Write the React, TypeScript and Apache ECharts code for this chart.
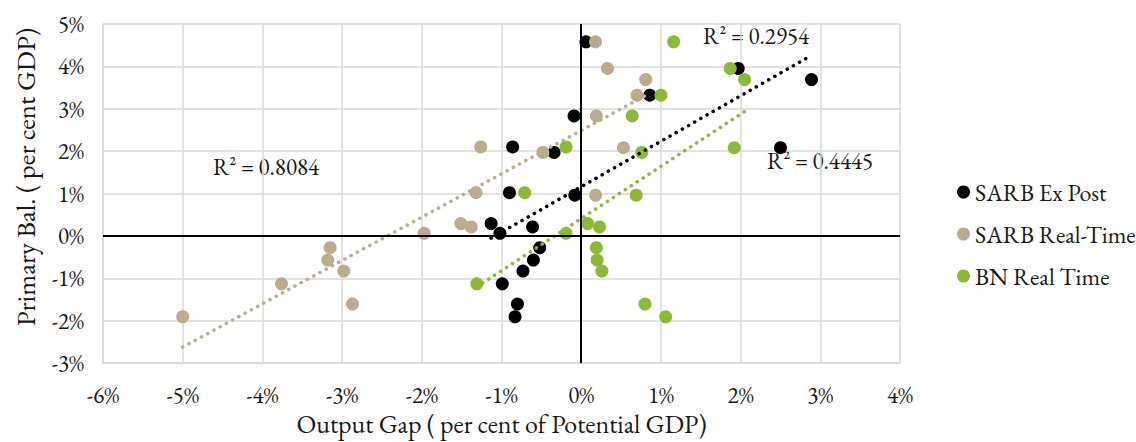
import React, { useEffect, useRef } from "react";
import * as echarts from "echarts";

// Primary balance (% of GDP) – shared y values for each observation
const primaryBalance = [4.58, 3.95, 3.69, 3.32, 2.83, 2.10, 2.08, 1.97, 1.02, 0.96, 0.29, 0.21, 0.06, -0.28, -0.57, -0.83, -1.13, -1.61, -1.91];
// Output gap estimates (% of potential GDP)
const sarbExPost = [0.06, 1.97, 2.89, 0.86, -0.09, -0.86, 2.50, -0.34, -0.90, -0.08, -1.13, -0.61, -1.02, -0.52, -0.60, -0.73, -0.99, -0.80, -0.83];
const sarbRealTime = [0.18, 0.33, 0.81, 0.70, 0.19, -1.26, 0.53, -0.48, -1.32, 0.18, -1.51, -1.38, -1.97, -3.15, -3.18, -2.98, -3.76, -2.87, -5.00];
const bnRealTime = [1.16, 1.87, 2.05, 1.00, 0.64, -0.19, 1.92, 0.76, -0.71, 0.69, 0.08, 0.23, -0.19, 0.19, 0.20, 0.26, -1.31, 0.80, 1.06];

const seriesNames = ["SARB Ex Post", "SARB Real-Time", "BN Real Time"];
const seriesColors = ["#000000", "#BCAC8C", "#8BBA34"];
const r2Labels = ["R² = 0.2954", "R² = 0.8084", "R² = 0.4445"];
const xTitle = "Output Gap ( per cent of Potential GDP)";
const yTitle = "Primary Bal. ( per cent GDP)";

const xTicksMin = -6, xTicksMax = 4, yTicksMin = -3, yTicksMax = 5;

const FONT = "'EB Garamond', Garamond, 'Liberation Serif', 'Times New Roman', serif";
const TEXT = "#1a1a1a";

function trend(xs: number[], ys: number[]) {
  const n = xs.length;
  const mx = xs.reduce((a, b) => a + b, 0) / n;
  const my = ys.reduce((a, b) => a + b, 0) / n;
  let sxy = 0, sxx = 0;
  for (let i = 0; i < n; i++) {
    sxy += (xs[i] - mx) * (ys[i] - my);
    sxx += (xs[i] - mx) ** 2;
  }
  const b = sxy / sxx;
  const a = my - b * mx;
  const x0 = Math.min(...xs), x1 = Math.max(...xs);
  return [[x0, a + b * x0], [x1, a + b * x1]];
}

export default function App() {
  const ref = useRef<HTMLDivElement>(null);
  useEffect(() => {
    if (!ref.current) return;
    const chart = echarts.init(ref.current, null, { renderer: "svg" });
    const xsets = [sarbExPost, sarbRealTime, bnRealTime];
    const scatter = xsets.map((xs, i) => ({
      name: seriesNames[i],
      type: "scatter",
      symbol: "circle",
      symbolSize: 13,
      itemStyle: { color: seriesColors[i], opacity: 1 },
      data: xs.map((x, j) => [x, primaryBalance[j]]),
      z: 3,
    }));
    const trends = xsets.map((xs, i) => ({
      name: seriesNames[i] + " trend",
      type: "line",
      data: trend(xs, primaryBalance),
      symbol: "none",
      lineStyle: { color: seriesColors[i], width: 3.5, type: [0.1, 7], cap: "round" },
      z: 4,
      silent: true,
    }));
    const axisLines = {
      name: "axes0",
      type: "line",
      data: [],
      markLine: {
        silent: true,
        symbol: "none",
        label: { show: false },
        lineStyle: { color: "#000", width: 2, type: "solid" },
        data: [{ xAxis: 0 }, { yAxis: 0 }],
      },
      z: 2,
    };
    chart.setOption({
      animation: false,
      textStyle: { fontFamily: FONT },
      grid: { left: 103, right: 236, top: 24, bottom: 79, containLabel: false, outerBoundsMode: "none" },
      xAxis: {
        type: "value",
        min: xTicksMin,
        max: xTicksMax,
        interval: 1,
        name: xTitle,
        nameLocation: "middle",
        nameGap: 41,
        nameTextStyle: { fontSize: 26, color: TEXT, fontFamily: FONT },
        axisLine: { show: true, onZero: false, lineStyle: { color: "#D9D9D9", width: 1.5 } },
        axisTick: { show: false },
        axisLabel: { formatter: (v: number) => v + "%", fontSize: 23, color: TEXT, margin: 20, fontFamily: FONT },
        splitLine: { show: true, lineStyle: { color: "#D9D9D9", width: 1.5 } },
      },
      yAxis: {
        type: "value",
        min: yTicksMin,
        max: yTicksMax,
        interval: 1,
        axisLine: { show: true, onZero: false, lineStyle: { color: "#D9D9D9", width: 1.5 } },
        axisTick: { show: false },
        axisLabel: { formatter: (v: number) => v + "%", fontSize: 23, color: TEXT, margin: 19, fontFamily: FONT },
        splitLine: { show: true, lineStyle: { color: "#D9D9D9", width: 1.5 } },
      },
      legend: {
        data: seriesNames,
        orient: "vertical",
        left: 957,
        top: 180,
        padding: 0,
        itemWidth: 13,
        itemHeight: 13,
        itemGap: 18,
        icon: "circle",
        textStyle: { fontSize: 24, lineHeight: 24, color: TEXT, fontFamily: FONT },
      },
      graphic: [
        { type: "text", x: 25, y: 177, rotation: Math.PI / 2, style: { text: yTitle, fontSize: 27, fill: TEXT, fontFamily: FONT, align: "center", verticalAlign: "middle" } },
        { type: "text", left: 703, top: 24, style: { text: r2Labels[0], fontSize: 23, fill: TEXT, fontFamily: FONT } },
        { type: "text", left: 213, top: 155, style: { text: r2Labels[1], fontSize: 23, fill: TEXT, fontFamily: FONT } },
        { type: "text", left: 767, top: 149, style: { text: r2Labels[2], fontSize: 23, fill: TEXT, fontFamily: FONT } },
      ],
      series: [axisLines, ...scatter, ...trends],
    });
    return () => chart.dispose();
  }, []);
  return <div ref={ref} style={{ position: "fixed", left: 0, top: 0, width: 1136, height: 442, background: "#fff" }} />;
}
